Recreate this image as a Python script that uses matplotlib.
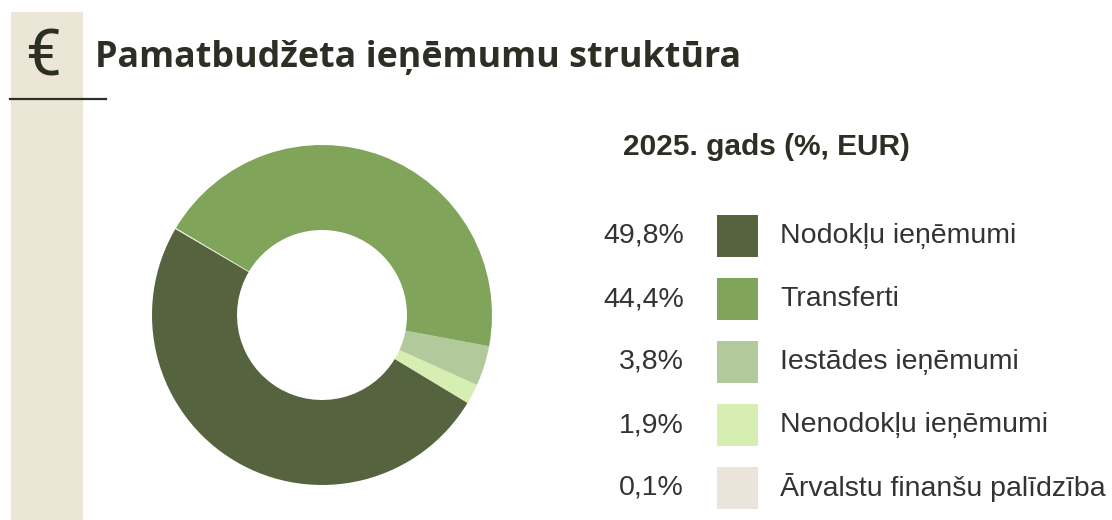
import matplotlib
matplotlib.use("Agg")
import matplotlib.pyplot as plt
from matplotlib.patches import Rectangle

# dati
kategorijas = ["Nodokļu ieņēmumi", "Transferti", "Iestādes ieņēmumi",
               "Nenodokļu ieņēmumi", "Ārvalstu finanšu palīdzība"]
procenti = [49.8, 44.4, 3.8, 1.9, 0.1]
krasas = ["#56633f", "#80a45a", "#b2c99b", "#d6eeb1", "#ebe4da"]
# secība aplī (pretēji pulksteņrādītājam)
apla_seciba = [0, 3, 2, 1, 4]

W, H = 1112, 520
fig = plt.figure(figsize=(W / 100, H / 100), dpi=100)
fig.patch.set_facecolor("white")


def px(x, y):
    return x / W, 1 - y / H


# bēšā josla kreisajā pusē
fig.patches.append(Rectangle(px(11, 520), 72 / W, 508 / H, transform=fig.transFigure,
                             facecolor="#ece6d6", edgecolor="none", zorder=0))
fig.add_artist(plt.Line2D([10 / W, 106 / W], [1 - 99 / H, 1 - 99 / H],
                          transform=fig.transFigure, color="#2b2f24", lw=1.6))

fig.text(*px(43, 58), "€", fontsize=46, color="#2b2f24", ha="center", va="center",
         family="Roboto")
fig.text(*px(95, 58), "Pamatbudžeta ieņēmumu struktūra", fontsize=25.8,
         fontweight="bold", color="#2b2f24", ha="left", va="center", family="Open Sans")

# donut
cx, cy, r = 322, 315, 170
ax = fig.add_axes([(cx - r) / W, (H - cy - r) / H, 2 * r / W, 2 * r / H])
ax.pie([procenti[i] for i in apla_seciba], colors=[krasas[i] for i in apla_seciba],
       startangle=149.6, counterclock=True, radius=1,
       wedgeprops=dict(width=0.5, edgecolor="none"))
ax.set_xlim(-1, 1)
ax.set_ylim(-1, 1)
ax.set_aspect("equal")
ax.axis("off")

# leģenda
fig.text(*px(766, 147), "2025. gads (%, EUR)", fontsize=21.5, fontweight="bold",
         color="#2b2f24", ha="center", va="center", family="Liberation Sans")
y0, dy = 236, 63
for i, (kat, p, c) in enumerate(zip(kategorijas, procenti, krasas)):
    y = y0 + i * dy
    fig.text(*px(684, y), f"{p:.1f}%".replace(".", ","), fontsize=20.5,
             color="#333333", ha="right", va="center", family="Liberation Sans")
    fig.patches.append(Rectangle(px(717, y + 21), 41 / W, 42 / H,
                                 transform=fig.transFigure, facecolor=c,
                                 edgecolor="none"))
    fig.text(*px(780, y), kat, fontsize=20.5, color="#333333", ha="left",
             va="center", family="Liberation Sans")

fig.savefig("out.png", dpi=100)
